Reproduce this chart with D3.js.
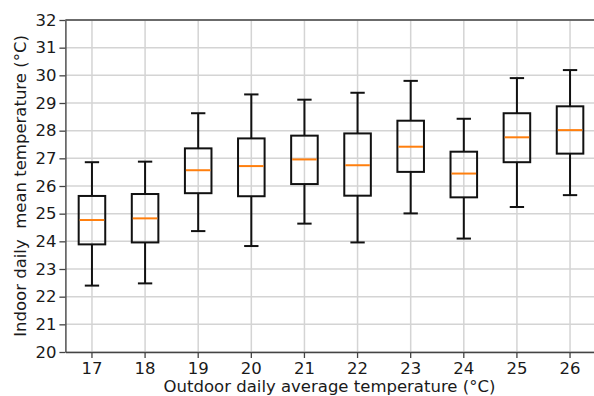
<!DOCTYPE html>
<html>
<head>
<meta charset="utf-8">
<script src="https://cdn.jsdelivr.net/npm/d3@7"></script>
<style>
  body { margin: 0; background: #fff; }
  svg { display: block; font-family: "DejaVu Sans", sans-serif; }
</style>
</head>
<body>
<svg id="chart" width="594" height="396"></svg>
<script>
// outdoor temperature groups
var categories = ["17", "18", "19", "20", "21", "22", "23", "24", "25", "26"];
// box stats
var whiskLow = [22.40, 22.48, 24.37, 23.83, 24.64, 23.96, 25.01, 24.10, 25.24, 25.67];
var q1       = [23.89, 23.96, 25.74, 25.63, 26.07, 25.65, 26.51, 25.59, 26.86, 27.17];
var median   = [24.77, 24.83, 26.57, 26.72, 26.96, 26.75, 27.42, 26.45, 27.76, 28.02];
var q3       = [25.64, 25.71, 27.36, 27.72, 27.82, 27.90, 28.36, 27.24, 28.63, 28.88];
var whiskHigh= [26.86, 26.88, 28.63, 29.31, 29.12, 29.37, 29.80, 28.43, 29.90, 30.19];
var yTicks = [20, 21, 22, 23, 24, 25, 26, 27, 28, 29, 30, 31, 32];

var svg = d3.select("#chart");
// note: "top" clashes with window.top, so plot edges get a prefix
var plotL = 65.4, plotR = 596.6, plotT = 20, plotB = 352;

var x = d3.scaleBand().domain(categories).range([plotL, plotR]).padding(0);
var y = d3.scaleLinear().domain([20, 32]).range([plotB, plotT]);
var bw = x.bandwidth();
var cx = function(c) { return x(c) + bw / 2; };

// grid
var grid = svg.append("g").attr("class", "grid");
grid.selectAll(".gy").data(yTicks).enter().append("line")
  .attr("x1", plotL).attr("x2", plotR)
  .attr("y1", function(d) { return y(d); })
  .attr("y2", function(d) { return y(d); })
  .attr("stroke", "#d4d4d4").attr("stroke-width", 1.5);
grid.selectAll(".gx").data(categories).enter().append("line")
  .attr("x1", cx).attr("x2", cx)
  .attr("y1", plotT).attr("y2", plotB)
  .attr("stroke", "#d4d4d4").attr("stroke-width", 1.5);

// axes
var xAxis = svg.append("g")
  .attr("transform", "translate(0," + plotB + ")")
  .call(d3.axisBottom(x).tickSize(6).tickPadding(4).tickSizeOuter(0));
var yAxis = svg.append("g")
  .attr("transform", "translate(" + plotL + ",0)")
  .call(d3.axisLeft(y).tickValues(yTicks).tickSize(6).tickPadding(3).tickSizeOuter(0));

[xAxis, yAxis].forEach(function(a) {
  a.select(".domain").attr("stroke", "#444").attr("stroke-width", 1.4);
  a.selectAll(".tick line").attr("stroke", "#444").attr("stroke-width", 1.3);
  a.selectAll(".tick text").attr("fill", "#1a1a1a").style("font-size", "16.5px")
    .style("font-family", "DejaVu Sans, sans-serif");
});

// top spine
svg.append("line")
  .attr("x1", plotL).attr("x2", plotR).attr("y1", plotT).attr("y2", plotT)
  .attr("stroke", "#444").attr("stroke-width", 1.4);

// boxes
var data = categories.map(function(c, i) {
  return { c: c, lo: whiskLow[i], q1: q1[i], med: median[i], q3: q3[i], hi: whiskHigh[i] };
});

var boxW = bw * 0.5, capW = bw * 0.27;
var g = svg.append("g").selectAll(".box").data(data).enter().append("g").attr("class", "box");

g.append("line")
  .attr("x1", function(d) { return cx(d.c); }).attr("x2", function(d) { return cx(d.c); })
  .attr("y1", function(d) { return y(d.hi); }).attr("y2", function(d) { return y(d.q3); })
  .attr("stroke", "#111").attr("stroke-width", 2);
g.append("line")
  .attr("x1", function(d) { return cx(d.c); }).attr("x2", function(d) { return cx(d.c); })
  .attr("y1", function(d) { return y(d.q1); }).attr("y2", function(d) { return y(d.lo); })
  .attr("stroke", "#111").attr("stroke-width", 2);
["hi", "lo"].forEach(function(k) {
  g.append("line")
    .attr("x1", function(d) { return cx(d.c) - capW / 2; })
    .attr("x2", function(d) { return cx(d.c) + capW / 2; })
    .attr("y1", function(d) { return y(d[k]); }).attr("y2", function(d) { return y(d[k]); })
    .attr("stroke", "#111").attr("stroke-width", 2);
});
g.append("rect")
  .attr("x", function(d) { return cx(d.c) - boxW / 2; })
  .attr("y", function(d) { return y(d.q3); })
  .attr("width", boxW)
  .attr("height", function(d) { return y(d.q1) - y(d.q3); })
  .attr("fill", "none").attr("stroke", "#111").attr("stroke-width", 2);
g.append("line")
  .attr("x1", function(d) { return cx(d.c) - boxW / 2 + 1; })
  .attr("x2", function(d) { return cx(d.c) + boxW / 2 - 1; })
  .attr("y1", function(d) { return y(d.med); }).attr("y2", function(d) { return y(d.med); })
  .attr("stroke", "#ff7f0e").attr("stroke-width", 2);

// labels
svg.append("text")
  .attr("x", (plotL + plotR) / 2 - 1.5).attr("y", 392)
  .attr("text-anchor", "middle").attr("fill", "#1a1a1a").style("font-size", "16.5px")
  .text("Outdoor daily average temperature (°C)");
svg.append("text")
  .attr("transform", "translate(26," + ((plotT + plotB) / 2) + ") rotate(-90)")
  .attr("text-anchor", "middle").attr("fill", "#1a1a1a").style("font-size", "16.5px")
  .style("white-space", "pre")
  .text("Indoor daily  mean temperature (°C)");
</script>
</body>
</html>
